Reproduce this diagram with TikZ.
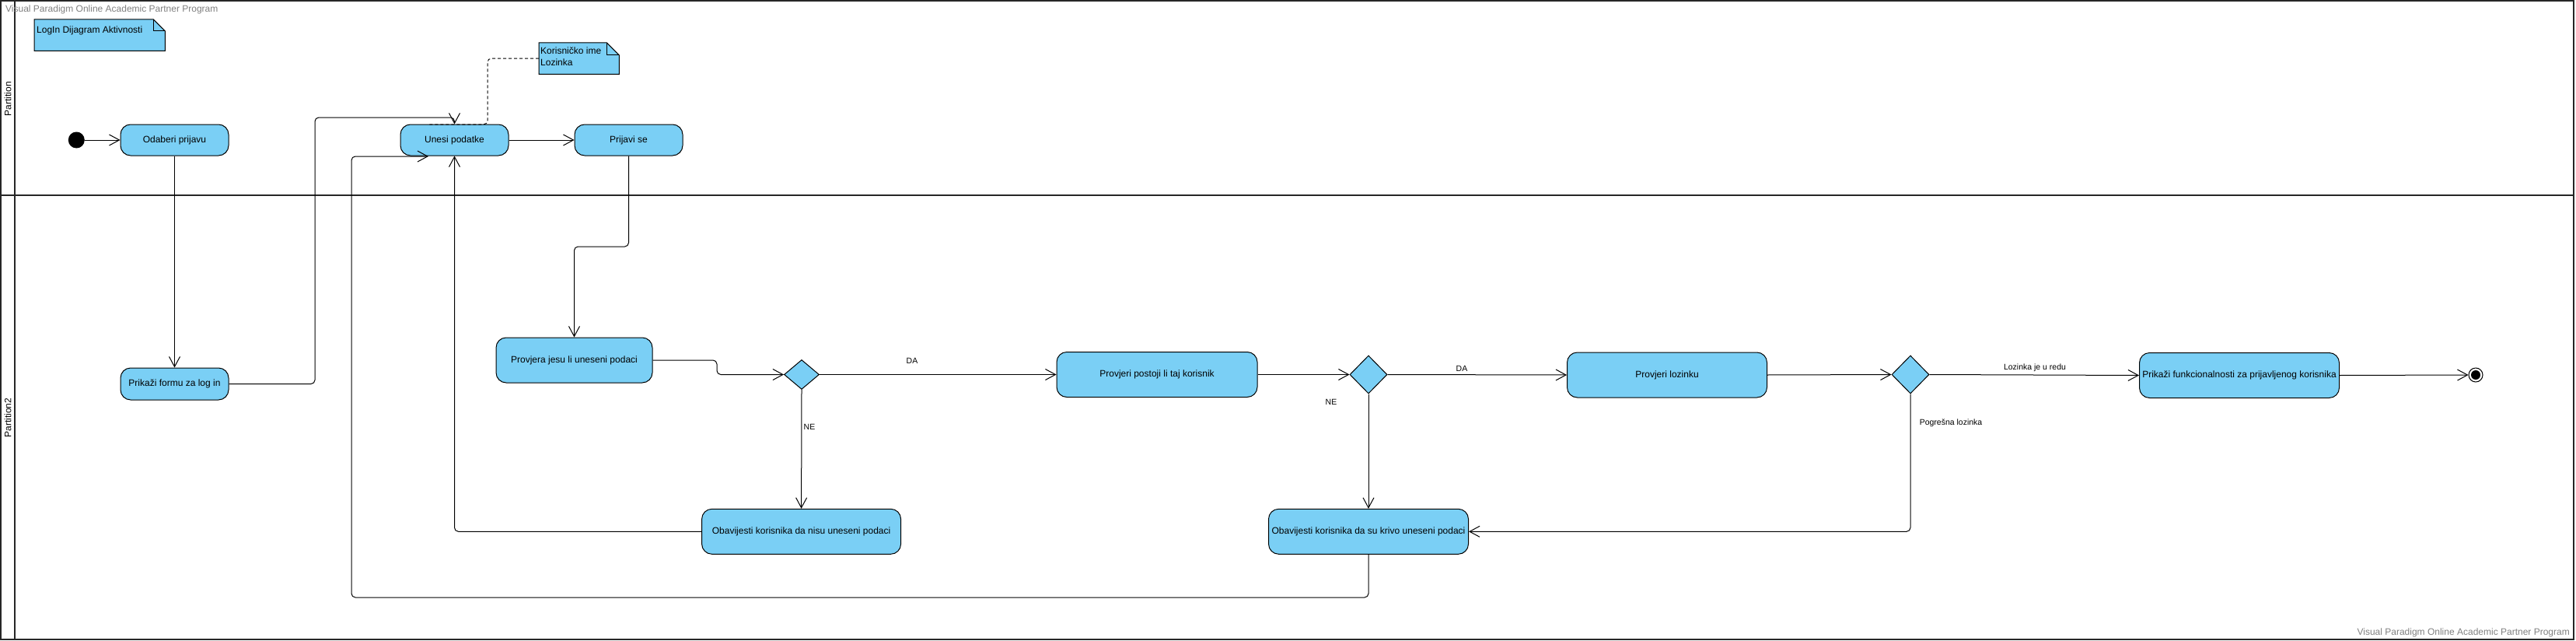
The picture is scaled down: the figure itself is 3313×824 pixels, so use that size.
\documentclass[tikz,border=0pt]{standalone}
\usepackage{fontspec}
\setmainfont{Liberation Sans}
\usetikzlibrary{arrows.meta,shapes.geometric,backgrounds}
\definecolor{actblue}{RGB}{122,207,245}
\definecolor{wmgray}{RGB}{128,128,128}
\begin{document}
\begin{tikzpicture}[x=1pt,y=-1pt,
  act/.style={draw, fill=actblue, rounded corners=13pt, line width=1pt, inner sep=0pt, align=center, font=\fontsize{12}{15}\selectfont},
  decision/.style={diamond, draw, fill=actblue, line width=1pt, inner sep=0pt},
  flow/.style={draw, line width=1pt, rounded corners=5pt, -{Straight Barb[length=13pt,width=14pt]}},
  lane/.style={draw, line width=2pt, color=black!85},
  lanelbl/.style={rotate=90, inner sep=0pt, font=\fontsize{12}{14}\selectfont},
  wm/.style={inner sep=0pt, text=wmgray, font=\fontsize{12}{14}\selectfont},
  lbl/.style={inner sep=0pt, font=\fontsize{10.5}{12}\selectfont},
  notebox/.style={inner sep=0pt, align=left, font=\fontsize{12}{15}\selectfont},
  notefill/.style={draw, fill=actblue, line width=1pt}
]
\useasboundingbox (0,0) rectangle (3313,824);

% swimlane frame
\draw[lane] (1,1) rectangle (3310,822);
\draw[lane] (19,1) -- (19,822);
\draw[lane] (1,251) -- (3310,251);
\node[lanelbl] (lane1) at (10,127) {Partition};
\node[lanelbl] (lane2) at (10,537) {Partition2};

% watermarks
\node[wm, anchor=west] (wm1) at (7,12) {Visual Paradigm Online Academic Partner Program};
\node[wm, anchor=east] (wm2) at (3305,813) {Visual Paradigm Online Academic Partner Program};

% notes
\node[notebox, anchor=north west, minimum width=168pt, minimum height=40pt] (note1) at (44,25) {};
\node[notebox, anchor=west] (note1txt) at (47,39) {LogIn Dijagram Aktivnosti};
\begin{scope}[on background layer]
\draw[notefill] (note1.north west) -- ([xshift=-15pt]note1.north east) -- ([yshift=-15pt]note1.north east) -- (note1.south east) -- (note1.south west) -- cycle;
\draw[line width=1pt] ([xshift=-15pt]note1.north east) -- ([xshift=-15pt,yshift=-15pt]note1.north east) -- ([yshift=-15pt]note1.north east);
\end{scope}

\node[notebox, anchor=north west, minimum width=103pt, minimum height=40pt] (note2) at (693,55) {};
\node[notebox, anchor=north west] (note2txt) at (695,61) {Korisničko ime\\Lozinka};
\begin{scope}[on background layer]
\draw[notefill] (note2.north west) -- ([xshift=-16pt]note2.north east) -- ([yshift=-16pt]note2.north east) -- (note2.south east) -- (note2.south west) -- cycle;
\draw[line width=1pt] ([xshift=-16pt]note2.north east) -- ([xshift=-16pt,yshift=-16pt]note2.north east) -- ([yshift=-16pt]note2.north east);
\end{scope}

% initial / final
\node[circle, fill=black, minimum size=21pt, inner sep=0pt] (init) at (98.3,180) {};
\node[circle, draw, fill=white, line width=1pt, minimum size=18pt, inner sep=0pt] (final) at (3184,482) {};
\node[circle, fill=black, minimum size=12pt, inner sep=0pt] (finalin) at (final.center) {};

% actions
\node[act, minimum width=139pt, minimum height=40pt] (odaberi) at (224.5,180) {Odaberi prijavu};
\node[act, minimum width=139pt, minimum height=41pt] (forma) at (224.5,493.5) {Prikaži formu za log in};
\node[act, minimum width=139pt, minimum height=40pt] (unesi) at (584.5,180) {Unesi podatke};
\node[act, minimum width=139pt, minimum height=40pt] (prijavi) at (808.5,180) {Prijavi se};
\node[act, minimum width=201pt, minimum height=58pt] (provjera) at (738.5,463) {Provjera jesu li uneseni podaci};
\node[act, minimum width=258pt, minimum height=58pt] (postoji) at (1488,481.5) {Provjeri postoji li taj korisnik};
\node[act, minimum width=257pt, minimum height=58pt] (lozinku) at (2144,482) {Provjeri lozinku};
\node[act, minimum width=257pt, minimum height=58pt] (funkc) at (2880,482.5) {Prikaži funkcionalnosti za prijavljenog korisnika};
\node[act, minimum width=256pt, minimum height=58pt] (nisu) at (1030.6,683.3) {Obavijesti korisnika da nisu uneseni podaci};
\node[act, minimum width=257pt, minimum height=58pt] (krivo) at (1760,683.3) {Obavijesti korisnika da su krivo uneseni podaci};

% decisions
\node[decision, minimum width=45pt, minimum height=38pt] (d1) at (1031,481.5) {};
\node[decision, minimum width=48pt, minimum height=49pt] (d2) at (1760,481.5) {};
\node[decision, minimum width=48pt, minimum height=49pt] (d3) at (2457,481.5) {};

% free ends
\coordinate (noteEnd) at (552,160);
\coordinate (unesiIn) at (551,201);

% connectors
\draw[dashed, dash pattern=on 4pt off 3pt, line width=1pt, rounded corners=5pt] (note2.west) -- (627,75) -- (627,160) -- (noteEnd);
\draw[flow] (init) -- (odaberi);
\draw[flow] (odaberi) -- (forma);
\draw[flow] (forma.east) -- (405,493.5) -- (405,151) -- (584.5,151) -- (unesi.north);
\draw[flow] (unesi) -- (prijavi);
\draw[flow] (prijavi.south) -- (808.5,317) -- (738.5,317) -- (provjera.north);
\draw[flow] (provjera.east) -- (922,463) -- (922,481.5) -- (d1.west);
\draw[flow] (d1.east) -- (postoji.west);
\draw[flow] (d1.south) -- (nisu.north);
\draw[flow] (nisu.west) -- (584.5,683.3) -- (unesi.south);
\draw[flow] (postoji.east) -- (d2.west);
\draw[flow] (d2.east) -- (lozinku.west);
\draw[flow] (d2.south) -- (krivo.north);
\draw[flow] (lozinku.east) -- (d3.west);
\draw[flow] (d3.east) -- (funkc.west);
\draw[flow] (d3.south) -- (2457,683.3) -- (krivo.east);
\draw[flow] (krivo.south) -- (1760,768) -- (452,768) -- (452,201) -- (unesiIn);
\draw[flow] (funkc.east) -- (final.west);

% guard labels
\node[lbl] (da1) at (1173,464) {DA};
\node[lbl] (ne1) at (1041,549) {NE};
\node[lbl] (da2) at (1880,474) {DA};
\node[lbl] (ne2) at (1712,517) {NE};
\node[lbl] (ok) at (2617,473) {Lozinka je u redu};
\node[lbl] (bad) at (2509,544) {Pogrešna lozinka};
\end{tikzpicture}
\end{document}
